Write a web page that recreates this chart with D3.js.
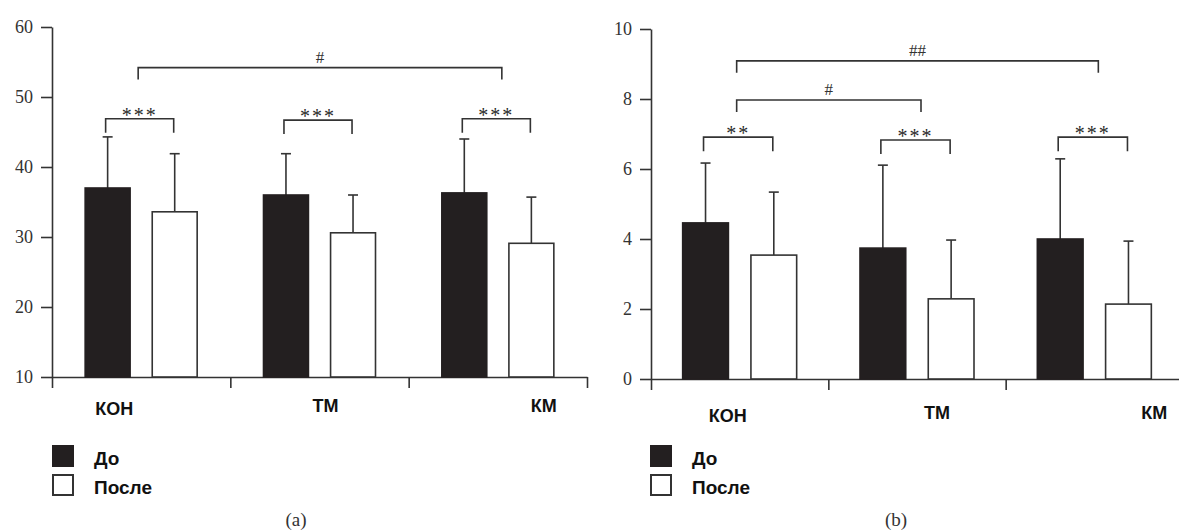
<!DOCTYPE html>
<html>
<head>
<meta charset="utf-8">
<script src="https://cdn.jsdelivr.net/npm/d3@7/dist/d3.min.js"></script>
<style>
  html, body { margin: 0; padding: 0; background: #fff; }
  svg { display: block; }
</style>
</head>
<body>
<svg id="chart" width="1179" height="532"></svg>
<script>
// ---------------- DATA ----------------
const categories = ["КОН", "ТМ", "КМ"];
const seriesNames = ["До", "После"];

// Panel (a)
const aTicks = [10, 20, 30, 40, 50, 60];
const aBefore = [37.0, 36.0, 36.3];
const aBeforeErr = [7.3, 5.9, 7.7];
const aAfter = [33.6, 30.6, 29.1];
const aAfterErr = [8.3, 5.4, 6.6];
const aPairSig = ["***", "***", "***"];
const aPairSigLevel = [46.9, 46.7, 46.9];
const aGroupSig = [{ from: "КОН", to: "КМ", label: "#", level: 54.2 }];

// Panel (b)
const bTicks = [0, 2, 4, 6, 8, 10];
const bBefore = [4.46, 3.74, 4.00];
const bBeforeErr = [1.71, 2.37, 2.29];
const bAfter = [3.54, 2.29, 2.14];
const bAfterErr = [1.80, 1.68, 1.80];
const bPairSig = ["**", "***", "***"];
const bPairSigLevel = [6.91, 6.83, 6.91];
const bGroupSig = [
  { from: "КОН", to: "ТМ", label: "#", level: 7.97 },
  { from: "КОН", to: "КМ", label: "##", level: 9.09 }
];

// ---------------- LAYOUT ----------------
const svg = d3.select("#chart");
const BLACK = "#231f20";
const LINE = "#333";

const panels = [
  {
    ticks: aTicks, domain: [10, 60], before: aBefore, beforeErr: aBeforeErr,
    after: aAfter, afterErr: aAfterErr, pairSig: aPairSig, pairLevel: aPairSigLevel,
    groupSig: aGroupSig, caption: "(a)",
    x0: 52, x1: 587, yTop: 27, yBot: 377, pairHalf: 56,
    labelOffsets: [-27, 6, 46], labelBaselines: [415, 412, 412],
    legendX: 52, captionX: 296
  },
  {
    ticks: bTicks, domain: [0, 10], before: bBefore, beforeErr: bBeforeErr,
    after: bAfter, afterErr: bAfterErr, pairSig: bPairSig, pairLevel: bPairSigLevel,
    groupSig: bGroupSig, caption: "(b)",
    x0: 651, x1: 1183, yTop: 29, yBot: 379, pairHalf: 57,
    labelOffsets: [-12, 20, 60], labelBaselines: [422, 419, 419],
    legendX: 650, captionX: 896
  }
];

panels.forEach(p => {
  const g = svg.append("g");
  const y = d3.scaleLinear().domain(p.domain).range([p.yBot, p.yTop]);
  const x = d3.scaleBand().domain(categories).range([p.x0, p.x1]).padding(0);
  const xIdx = d3.scaleLinear().domain([0, categories.length]).range([p.x0, p.x1]);
  const c = cat => x(cat) + x.bandwidth() / 2;
  const sub = d3.scaleBand().domain(seriesNames)
    .range([-p.pairHalf, p.pairHalf]).paddingInner(0.33).paddingOuter(0);

  // Y axis
  const yAxis = g.append("g").attr("transform", `translate(${p.x0},0)`)
    .call(d3.axisLeft(y).tickValues(p.ticks).tickSize(11).tickSizeOuter(0).tickPadding(8));
  yAxis.selectAll("text").attr("font-family", "Liberation Serif").attr("font-size", 18)
    .attr("fill", "#333");

  // X axis (ticks at group boundaries)
  const xAxis = g.append("g").attr("transform", `translate(0,${p.yBot})`)
    .call(d3.axisBottom(xIdx).tickValues(d3.range(categories.length + 1))
      .tickSize(11).tickSizeOuter(0).tickFormat(""));

  [yAxis, xAxis].forEach(a => {
    a.select(".domain").attr("stroke", LINE).attr("stroke-width", 1.6);
    a.selectAll(".tick line").attr("stroke", LINE).attr("stroke-width", 1.6);
  });

  // Bars
  const rows = categories.map((cat, i) => ([
    { cat, s: "До", v: p.before[i], e: p.beforeErr[i] },
    { cat, s: "После", v: p.after[i], e: p.afterErr[i] }
  ])).flat();

  const barG = g.append("g");
  // error bars
  rows.forEach(d => {
    const cx = c(d.cat) + sub(d.s) + sub.bandwidth() / 2;
    barG.append("line").attr("x1", cx).attr("x2", cx)
      .attr("y1", y(d.v)).attr("y2", y(d.v + d.e))
      .attr("stroke", LINE).attr("stroke-width", 1.6);
    barG.append("line").attr("x1", cx - 5).attr("x2", cx + 5)
      .attr("y1", y(d.v + d.e)).attr("y2", y(d.v + d.e))
      .attr("stroke", LINE).attr("stroke-width", 1.6);
  });
  barG.selectAll("rect").data(rows).join("rect")
    .attr("x", d => c(d.cat) + sub(d.s))
    .attr("y", d => y(d.v))
    .attr("width", sub.bandwidth())
    .attr("height", d => y(p.domain[0]) - y(d.v))
    .attr("fill", d => d.s === "До" ? BLACK : "#fff")
    .attr("stroke", d => d.s === "До" ? BLACK : LINE)
    .attr("stroke-width", 1.6);

  // Pair significance brackets
  const sigG = g.append("g").attr("stroke", LINE).attr("stroke-width", 1.6).attr("fill", "none");
  categories.forEach((cat, i) => {
    const xa = c(cat) + sub("До") + sub.bandwidth() / 2 - 2;
    const xb = c(cat) + sub("После") + sub.bandwidth() / 2 - 1;
    const yy = y(p.pairLevel[i]);
    sigG.append("path").attr("d", `M${xa},${yy + 14}V${yy}H${xb}V${yy + 14}`);
    g.append("text").attr("x", (xa + xb) / 2).attr("y", yy + 3)
      .attr("text-anchor", "middle").attr("font-family", "Liberation Serif")
      .attr("font-size", 20).attr("letter-spacing", 2).attr("fill", "#2a2a2a")
      .text(p.pairSig[i]);
  });

  // Group significance brackets
  p.groupSig.forEach(s => {
    const xa = c(s.from) - 3, xb = c(s.to) + 4;
    const yy = y(s.level);
    sigG.append("path").attr("d", `M${xa},${yy + 12}V${yy}H${xb}V${yy + 12}`);
    g.append("text").attr("x", (xa + xb) / 2).attr("y", yy - 5)
      .attr("text-anchor", "middle").attr("font-family", "Liberation Serif")
      .attr("font-size", 17).attr("fill", "#333").text(s.label);
  });

  // Category labels
  categories.forEach((cat, i) => {
    g.append("text").attr("x", c(cat) + p.labelOffsets[i]).attr("y", p.labelBaselines[i])
      .attr("text-anchor", "middle").attr("font-family", "Liberation Sans")
      .attr("font-weight", "bold").attr("font-size", 18).attr("fill", "#111")
      .text(cat);
  });

  // Legend
  seriesNames.forEach((s, i) => {
    const ly = 445 + i * 29;
    g.append("rect").attr("x", p.legendX + 1).attr("y", ly + 1).attr("width", 20).attr("height", 20)
      .attr("fill", s === "До" ? BLACK : "#fff")
      .attr("stroke", s === "До" ? BLACK : LINE).attr("stroke-width", 2);
    g.append("text").attr("x", p.legendX + 42).attr("y", ly + 20)
      .attr("font-family", "Liberation Sans").attr("font-weight", "bold")
      .attr("font-size", 19).attr("fill", "#111").text(s);
  });

  // Caption
  g.append("text").attr("x", p.captionX).attr("y", 526)
    .attr("text-anchor", "middle").attr("font-family", "Liberation Serif")
    .attr("font-size", 19).attr("fill", "#333").text(p.caption);
});
</script>
</body>
</html>
